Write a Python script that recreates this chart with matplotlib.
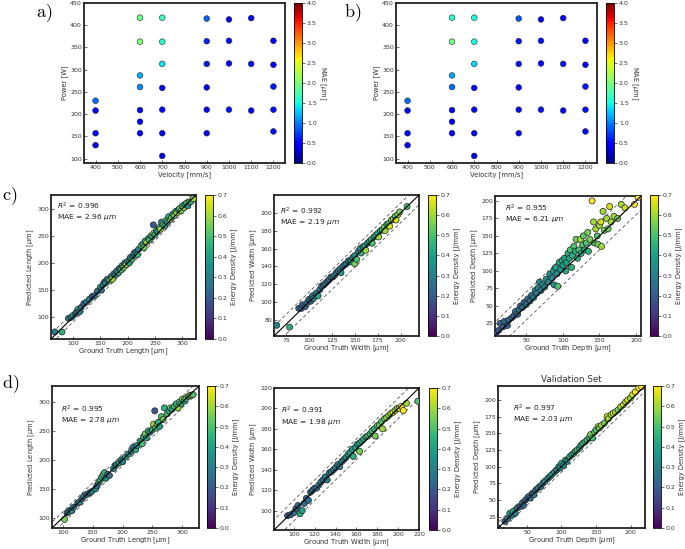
import numpy as np
import matplotlib
matplotlib.use("Agg")
import matplotlib.pyplot as plt

W, H = 685, 549

# ---------------- Panel a/b data ----------------
velocity = [400, 400, 400, 400, 600, 600, 600, 600, 600, 600, 600,
            700, 700, 700, 700, 700, 700, 700, 900, 900, 900, 900, 900, 900,
            1000, 1000, 1000, 1000, 1100, 1100, 1100, 1200, 1200, 1200, 1200, 1200]
power = [230, 208, 157, 130, 417, 363, 287, 261, 209, 183, 157,
         417, 363, 313, 259, 210, 157, 106, 415, 364, 313, 260, 210, 157,
         413, 365, 314, 210, 416, 313, 208, 365, 311, 262, 210, 161]
mae_a = [0.95, 0.5, 0.5, 0.4, 1.9, 2.0, 1.2, 1.05, 0.5, 0.45, 0.5,
         1.7, 1.6, 1.4, 0.5, 0.5, 0.5, 0.4, 0.9, 0.65, 0.6, 0.5, 0.5, 0.5,
         0.5, 0.55, 0.5, 0.55, 0.5, 0.55, 0.5, 0.5, 0.5, 0.6, 0.55, 0.55]
mae_b = [0.95, 0.5, 0.5, 0.4, 1.6, 1.95, 1.15, 0.95, 0.5, 0.45, 0.5,
         1.55, 1.5, 1.35, 0.5, 0.5, 0.5, 0.4, 0.85, 0.6, 0.55, 0.5, 0.5, 0.5,
         0.5, 0.55, 0.5, 0.55, 0.5, 0.55, 0.5, 0.5, 0.5, 0.6, 0.55, 0.55]
mae_ticks = [0.0, 0.5, 1.0, 1.5, 2.0, 2.5, 3.0, 3.5, 4.0]
vel_ticks = [400, 500, 600, 700, 800, 900, 1000, 1100, 1200]
pow_ticks = [100, 150, 200, 250, 300, 350, 400, 450]

# ---------------- Panel c1: length (test) ----------------
c1_gt = [67, 80, 92, 97, 100, 105, 108, 110, 112, 115, 120, 125, 130, 135, 140, 145, 150, 152, 155, 158,
         160, 163, 167, 170, 172, 175, 178, 180, 183, 185, 188, 190, 193, 195, 197, 200, 203, 205, 208, 210,
         212, 215, 218, 220, 225, 228, 230, 232, 235, 238, 240, 243, 245, 247, 248, 250, 253, 255, 258, 260,
         262, 265, 268, 270, 273, 275, 278, 280, 283, 285, 288, 290, 293, 295, 298, 300, 303, 305, 308, 310,
         313, 316, 320]
c1_pr = [73, 73, 98, 100, 103, 107, 112, 115, 110, 118, 125, 128, 133, 138, 140, 148, 155, 150, 160, 165,
         163, 170, 168, 175, 170, 180, 178, 185, 182, 190, 187, 195, 192, 200, 197, 203, 200, 210, 207, 213,
         218, 220, 215, 225, 232, 235, 228, 240, 238, 245, 242, 250, 248, 270, 255, 252, 260, 258, 265, 262,
         275, 270, 268, 278, 275, 285, 280, 283, 290, 287, 295, 292, 298, 300, 296, 305, 302, 308, 310, 305,
         312, 313, 318]
c1_ed = [0.3, 0.45, 0.25, 0.3, 0.35, 0.2, 0.4, 0.45, 0.3, 0.25, 0.2, 0.3, 0.35, 0.2, 0.25, 0.3, 0.4, 0.25, 0.3, 0.2,
         0.35, 0.25, 0.5, 0.3, 0.6, 0.25, 0.35, 0.3, 0.45, 0.2, 0.5, 0.3, 0.55, 0.25, 0.6, 0.35, 0.4, 0.3, 0.5, 0.25,
         0.35, 0.2, 0.45, 0.3, 0.5, 0.4, 0.55, 0.45, 0.6, 0.35, 0.5, 0.55, 0.4, 0.2, 0.6, 0.45, 0.5, 0.35, 0.45, 0.6,
         0.3, 0.55, 0.4, 0.5, 0.35, 0.45, 0.65, 0.5, 0.4, 0.55, 0.45, 0.6, 0.35, 0.5, 0.55, 0.45, 0.6, 0.4, 0.5, 0.35,
         0.55, 0.45, 0.6]

# ---------------- Panel c2: width (test) ----------------
c2_gt = [65, 79, 89, 92, 93, 96, 98, 100, 102, 104, 105, 108, 110, 112, 114, 116, 118, 120, 122, 124,
         126, 128, 130, 132, 134, 135, 137, 139, 141, 143, 145, 146, 148, 150, 150, 152, 154, 156, 157, 159,
         161, 162, 164, 166, 168, 169, 171, 173, 175, 176, 178, 180, 182, 183, 185, 187, 188, 190, 192, 194,
         195, 197, 199, 207]
c2_pr = [74, 72, 93, 93, 97, 95, 99, 103, 101, 107, 104, 110, 107, 114, 118, 119, 121, 123, 125, 128,
         128, 130, 133, 135, 137, 133, 140, 142, 143, 146, 147, 145, 150, 152, 143, 148, 157, 160, 155, 162,
         163, 158, 166, 168, 170, 166, 173, 175, 177, 173, 180, 181, 184, 180, 187, 188, 185, 192, 193, 196,
         192, 198, 201, 207]
c2_ed = [0.3, 0.45, 0.2, 0.22, 0.2, 0.22, 0.25, 0.25, 0.2, 0.28, 0.3, 0.25, 0.42, 0.25, 0.28, 0.22, 0.3, 0.25, 0.22, 0.3,
         0.25, 0.3, 0.27, 0.25, 0.3, 0.35, 0.25, 0.28, 0.3, 0.25, 0.32, 0.4, 0.3, 0.35, 0.55, 0.5, 0.32, 0.35, 0.45, 0.3,
         0.4, 0.6, 0.35, 0.4, 0.45, 0.5, 0.4, 0.5, 0.42, 0.6, 0.45, 0.5, 0.55, 0.6, 0.45, 0.5, 0.65, 0.55, 0.6, 0.5,
         0.65, 0.6, 0.55, 0.5]

# ---------------- Panel c3: depth (test) ----------------
c3_gt = [8, 12, 14, 18, 20, 24, 26, 30, 33, 35, 38, 40, 42, 45, 47, 50, 52, 55, 57, 60,
         62, 64, 66, 68, 70, 72, 75, 77, 80, 82, 85, 87, 88, 90, 92, 93, 95, 97, 99, 100,
         102, 104, 105, 107, 109, 110, 112, 113, 115, 117, 118, 120, 122, 124, 125, 127, 128, 130, 132, 134,
         135, 137, 140, 142, 143, 145, 147, 148, 150, 152, 153, 155, 157, 160, 162, 164, 166, 170, 175, 180,
         185, 198, 203]
c3_pr = [10, 15, 25, 20, 28, 22, 30, 33, 36, 42, 38, 45, 50, 48, 55, 52, 60, 57, 65, 62,
         72, 68, 76, 84, 72, 80, 77, 88, 84, 95, 90, 100, 80, 105, 96, 78, 112, 102, 115, 108,
         118, 100, 112, 125, 118, 130, 105, 122, 135, 128, 145, 118, 130, 145, 125, 137, 150, 130, 140, 155,
         128, 145, 200, 170, 140, 160, 150, 138, 165, 170, 135, 185, 158, 175, 160, 192, 170, 178, 175, 195,
         190, 195, 205]
c3_ed = [0.2, 0.18, 0.22, 0.2, 0.22, 0.2, 0.25, 0.22, 0.2, 0.25, 0.22, 0.25, 0.2, 0.25, 0.22, 0.27, 0.25, 0.25, 0.28, 0.3,
         0.3, 0.28, 0.32, 0.32, 0.3, 0.35, 0.3, 0.35, 0.32, 0.35, 0.33, 0.38, 0.36, 0.4, 0.36, 0.5, 0.42, 0.38, 0.45, 0.38,
         0.4, 0.42, 0.4, 0.45, 0.42, 0.5, 0.45, 0.45, 0.5, 0.42, 0.55, 0.45, 0.5, 0.6, 0.45, 0.5, 0.52, 0.42, 0.5, 0.55,
         0.45, 0.55, 0.7, 0.6, 0.5, 0.6, 0.5, 0.55, 0.6, 0.65, 0.6, 0.6, 0.55, 0.6, 0.55, 0.65, 0.6, 0.6, 0.55, 0.6,
         0.65, 0.7, 0.7]

# ---------------- Panel d1: length (validation) ----------------
d1_gt = [103, 107, 110, 113, 115, 118, 125, 128, 132, 135, 140, 145, 148, 155, 157, 160, 163, 165, 168, 170,
         172, 175, 178, 185, 188, 190, 195, 198, 200, 205, 210, 215, 218, 222, 225, 230, 233, 235, 238, 240,
         243, 246, 250, 252, 254, 255, 258, 260, 262, 265, 268, 270, 275, 278, 280, 283, 287, 290, 293, 295,
         298, 300, 303, 306, 310, 313, 316, 318]
d1_pr = [97, 108, 110, 113, 112, 118, 125, 127, 132, 137, 140, 143, 145, 150, 155, 160, 165, 170, 175, 178,
         168, 175, 173, 185, 190, 192, 195, 200, 197, 205, 210, 215, 222, 218, 225, 232, 228, 240, 245, 238,
         250, 248, 252, 262, 285, 255, 262, 265, 258, 275, 270, 290, 280, 285, 290, 288, 293, 297, 290, 300,
         297, 305, 302, 306, 310, 312, 312, 313]
d1_ed = [0.55, 0.25, 0.3, 0.2, 0.35, 0.25, 0.3, 0.35, 0.25, 0.3, 0.2, 0.25, 0.3, 0.35, 0.25, 0.3, 0.5, 0.4, 0.55, 0.45,
         0.35, 0.3, 0.25, 0.35, 0.4, 0.3, 0.45, 0.35, 0.3, 0.4, 0.35, 0.3, 0.25, 0.45, 0.35, 0.4, 0.5, 0.45, 0.55, 0.4,
         0.5, 0.35, 0.45, 0.6, 0.2, 0.5, 0.55, 0.45, 0.4, 0.5, 0.55, 0.45, 0.5, 0.45, 0.55, 0.4, 0.5, 0.45, 0.6, 0.5,
         0.45, 0.55, 0.4, 0.5, 0.45, 0.6, 0.65, 0.5]

# ---------------- Panel d2: width (validation) ----------------
d2_gt = [94, 97, 100, 102, 104, 106, 108, 110, 112, 114, 116, 118, 120, 122, 124, 126, 128, 130, 132, 134,
         136, 138, 140, 142, 144, 146, 148, 150, 152, 154, 156, 157, 159, 161, 163, 163, 165, 167, 169, 171,
         173, 175, 177, 178, 180, 182, 184, 185, 187, 189, 191, 193, 195, 197, 199, 201, 203, 205, 208, 219]
d2_pr = [95, 96, 98, 102, 105, 97, 100, 107, 112, 110, 118, 120, 122, 122, 125, 128, 130, 133, 130, 137,
         138, 140, 142, 145, 143, 148, 150, 152, 155, 157, 160, 153, 162, 165, 166, 158, 168, 170, 172, 173,
         175, 178, 180, 173, 183, 184, 187, 180, 190, 191, 193, 195, 196, 198, 200, 200, 202, 198, 205, 207]
d2_ed = [0.2, 0.22, 0.25, 0.2, 0.22, 0.45, 0.4, 0.25, 0.22, 0.25, 0.22, 0.25, 0.22, 0.28, 0.25, 0.3, 0.25, 0.28, 0.3, 0.25,
         0.3, 0.28, 0.3, 0.27, 0.3, 0.32, 0.3, 0.35, 0.35, 0.4, 0.38, 0.45, 0.4, 0.35, 0.4, 0.55, 0.42, 0.45, 0.4, 0.5,
         0.45, 0.5, 0.45, 0.55, 0.5, 0.55, 0.5, 0.6, 0.55, 0.6, 0.55, 0.6, 0.65, 0.6, 0.55, 0.65, 0.7, 0.7, 0.6, 0.5]

# ---------------- Panel d3: depth (validation) ----------------
d3_gt = [8, 18, 22, 25, 28, 30, 33, 36, 40, 43, 45, 48, 52, 55, 58, 60, 63, 66, 70, 73,
         76, 80, 83, 86, 90, 93, 96, 98, 100, 103, 106, 108, 112, 115, 118, 120, 123, 126, 128, 131,
         134, 137, 140, 142, 145, 148, 150, 153, 155, 158, 162, 166, 168, 172, 175, 178, 182, 186, 190, 193,
         196, 200, 203, 207, 212, 216]
d3_pr = [8, 18, 22, 30, 27, 33, 30, 38, 40, 45, 42, 50, 55, 53, 60, 58, 65, 68, 70, 75,
         78, 82, 85, 88, 92, 95, 100, 98, 105, 102, 110, 108, 115, 118, 120, 123, 125, 128, 132, 135,
         137, 140, 143, 148, 143, 152, 155, 160, 158, 162, 165, 175, 172, 178, 180, 182, 185, 190, 193, 197,
         200, 203, 208, 212, 218, 220]
d3_ed = [0.2, 0.22, 0.25, 0.4, 0.3, 0.45, 0.28, 0.25, 0.22, 0.25, 0.22, 0.2, 0.22, 0.25, 0.25, 0.3, 0.25, 0.3, 0.25, 0.3,
         0.35, 0.3, 0.35, 0.4, 0.35, 0.3, 0.4, 0.35, 0.4, 0.35, 0.4, 0.35, 0.45, 0.4, 0.45, 0.4, 0.5, 0.45, 0.4, 0.5,
         0.45, 0.5, 0.45, 0.55, 0.5, 0.55, 0.5, 0.6, 0.55, 0.6, 0.55, 0.65, 0.6, 0.6, 0.65, 0.6, 0.55, 0.6, 0.65, 0.6,
         0.65, 0.6, 0.65, 0.7, 0.7, 0.7]

ed_ticks = [0.0, 0.1, 0.2, 0.3, 0.4, 0.5, 0.6, 0.7]

fig = plt.figure(figsize=(W / 100, H / 100), dpi=100)
FS = 4.5
LFS = 4.9


def rect(l, t, r, b):
    return [l / W, 1 - b / H, (r - l) / W, (b - t) / H]


def style_ax(ax):
    for sp in ax.spines.values():
        sp.set_linewidth(1.3)
        sp.set_color("#222222")
    ax.tick_params(direction="in", length=2, width=0.5, labelsize=FS, pad=1.5, colors="#333333")


def style_cbar(cb, ticks, label, rot, pad):
    cb.set_ticks(ticks)
    cb.ax.tick_params(labelsize=FS, length=2, width=0.5, pad=1.5, colors="#333333")
    cb.outline.set_linewidth(0.6)
    cb.set_label(label, fontsize=LFS, rotation=rot, labelpad=pad, color="#333333")


def panel_label(x, y, s):
    fig.text(x / W, 1 - y / H, r"$\mathrm{" + s + "}$", fontsize=13, math_fontfamily="cm",
             ha="left", va="center")


# ---- a / b ----
for (axr, cr, mae, lab, lx) in [((84, 3, 285, 163), (294, 3, 302, 163), mae_a, "a)", 36),
                                ((396, 3, 597, 163), (606, 3, 614, 163), mae_b, "b)", 344)]:
    ax = fig.add_axes(rect(*axr))
    sc = ax.scatter(velocity, power, c=mae, cmap="jet", vmin=0, vmax=4, s=17,
                    edgecolors="#222222", linewidths=0.4, zorder=3)
    ax.set_xlim(348, 1252)
    ax.set_ylim(90, 450)
    ax.set_xticks(vel_ticks)
    ax.set_yticks(pow_ticks)
    ax.set_xlabel("Velocity [mm/s]", fontsize=LFS, labelpad=0.5, color="#333333")
    ax.set_ylabel("Power [W]", fontsize=LFS, labelpad=1.5, color="#333333")
    style_ax(ax)
    cax = fig.add_axes(rect(*cr))
    cb = fig.colorbar(sc, cax=cax)
    style_cbar(cb, mae_ticks, r"MAE [$\mu$m]", 270, 8)
    panel_label(lx, 13, lab)

# ---- parity panels ----
panels = [
    dict(gt=c1_gt, pr=c1_pr, ed=c1_ed, name="Length", lim=(60, 325), ticks=[100, 150, 200, 250, 300],
         r2="0.996", mae="2.96", off=9, axr=(51, 195, 196, 339), cr=(205, 195, 213, 339),
         tpos=(0.04, 0.92, 0.85), title=None),
    dict(gt=c2_gt, pr=c2_pr, ed=c2_ed, name="Width", lim=(62, 220), ticks=[75, 100, 125, 150, 175, 200],
         yticks=[80, 100, 120, 140, 160, 180, 200],
         r2="0.992", mae="2.19", off=11, axr=(274, 195, 419, 336), cr=(428, 195, 436, 336),
         tpos=(0.04, 0.885, 0.81), title=None),
    dict(gt=c3_gt, pr=c3_pr, ed=c3_ed, name="Depth", lim=(7, 207), ticks=[50, 100, 150, 200],
         yticks=[25, 50, 75, 100, 125, 150, 175, 200],
         r2="0.955", mae="6.21", off=20, axr=(495, 196, 641, 336), cr=(650, 195, 658, 336),
         tpos=(0.07, 0.91, 0.835), title=None),
    dict(gt=d1_gt, pr=d1_pr, ed=d1_ed, name="Length", lim=(82, 328), ticks=[100, 150, 200, 250, 300],
         r2="0.995", mae="2.78", off=10, axr=(52, 386, 199, 528), cr=(207, 386, 215, 528),
         tpos=(0.06, 0.835, 0.76), title=None),
    dict(gt=d2_gt, pr=d2_pr, ed=d2_ed, name="Width", lim=(81, 220), ticks=[100, 120, 140, 160, 180, 200, 220],
         yticks=[100, 120, 140, 160, 180, 200, 220],
         r2="0.991", mae="1.98", off=10, axr=(274, 388, 419, 530), cr=(429, 388, 437, 530),
         tpos=(0.05, 0.84, 0.76), title=None),
    dict(gt=d3_gt, pr=d3_pr, ed=d3_ed, name="Depth", lim=(8, 221), ticks=[50, 100, 150, 200],
         yticks=[25, 50, 75, 100, 125, 150, 175, 200],
         r2="0.997", mae="2.03", off=8, axr=(498, 386, 645, 528), cr=(653, 386, 661, 528),
         tpos=(0.1, 0.84, 0.765), title="Validation Set"),
]

for p in panels:
    ax = fig.add_axes(rect(*p["axr"]))
    lo, hi = p["lim"]
    ref = np.array([lo - 50, hi + 50])
    ax.plot(ref, ref, color="black", lw=0.8, zorder=4)
    ax.plot(ref, ref + p["off"], color="#555555", lw=0.6, ls=(0, (4, 3)), zorder=1)
    ax.plot(ref, ref - p["off"], color="#555555", lw=0.6, ls=(0, (4, 3)), zorder=1)
    sc = ax.scatter(p["gt"], p["pr"], c=p["ed"], cmap="viridis", vmin=0, vmax=0.7, s=19,
                    edgecolors="#222222", linewidths=0.5, zorder=3)
    ax.set_xlim(lo, hi)
    ax.set_ylim(lo, hi)
    ax.set_xticks(p["ticks"])
    ax.set_yticks(p.get("yticks", p["ticks"]))
    ax.set_xlabel("Ground Truth %s [$\\mu$m]" % p["name"], fontsize=LFS, labelpad=0.5, color="#333333")
    ax.set_ylabel("Predicted %s [$\\mu$m]" % p["name"], fontsize=LFS, labelpad=1, color="#333333")
    style_ax(ax)
    tx, ty1, ty2 = p["tpos"]
    ax.text(tx, ty1, "$R^2$ = " + p["r2"], transform=ax.transAxes, fontsize=LFS + 0.5,
            ha="left", va="center", color="#222222", zorder=6)
    ax.text(tx, ty2, "MAE = " + p["mae"] + r" $\mu m$", transform=ax.transAxes, fontsize=LFS + 0.5,
            ha="left", va="center", color="#222222", zorder=6)
    if p["title"]:
        ax.set_title(p["title"], fontsize=LFS + 1.4, pad=3, color="#333333")
    cax = fig.add_axes(rect(*p["cr"]))
    cb = fig.colorbar(sc, cax=cax)
    style_cbar(cb, ed_ticks, "Energy Density [J/mm]", 90, 1.5)

panel_label(2, 196, "c)")
panel_label(2, 384, "d)")

fig.savefig("out.png", dpi=100)
